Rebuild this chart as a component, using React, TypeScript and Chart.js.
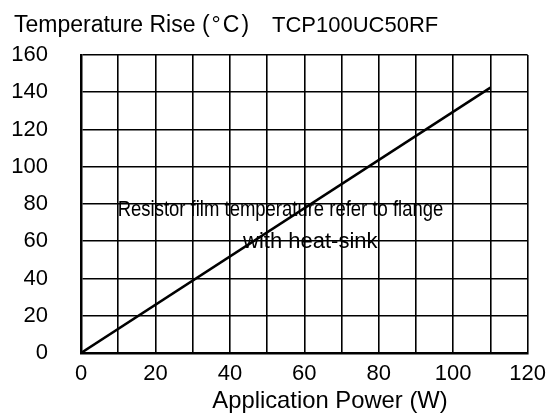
import React, { useEffect, useRef } from "react";
import { Chart, registerables } from "chart.js";

Chart.register(...registerables);

const power = [0, 110];
const tempRise = [0, 142.5];
const xTicksShown = [0, 20, 40, 60, 80, 100, 120];
const titleMain = "Temperature Rise ";
const titleUnit = "(°C)";
const titleRight = "TCP100UC50RF";
const xAxisTitle = "Application Power (W)";
const noteLines = ["Resistor film temperature refer to flange", "with heat-sink"];

const FONT = "'Liberation Sans', Arial, sans-serif";

const textPlugin = {
  id: "textPlugin",
  afterDraw(chart: any) {
    const ctx = chart.ctx;
    const xs = chart.scales.x;
    const ys = chart.scales.y;
    ctx.save();
    ctx.fillStyle = "#000";
    ctx.textBaseline = "alphabetic";
    // title
    ctx.font = `23px ${FONT}`;
    ctx.textAlign = "left";
    ctx.fillText(titleMain, 14, 32);
    const w = ctx.measureText(titleMain).width;
    (ctx as any).letterSpacing = "2px";
    ctx.fillText(titleUnit, 14 + w, 32);
    (ctx as any).letterSpacing = "0px";
    ctx.font = `22px ${FONT}`;
    ctx.fillText(titleRight, 272, 32);
    // x axis title
    ctx.font = `23.8px ${FONT}`;
    ctx.textAlign = "center";
    ctx.fillText(xAxisTitle, 330, 408);
    // note
    const pos = [
      { x: 53.6, y: 73.6, sx: 0.84 },
      { x: 61.6, y: 56.2, sx: 1 },
    ];
    ctx.font = `22px ${FONT}`;
    noteLines.forEach((t, i) => {
      const px = xs.getPixelForValue(pos[i].x);
      const py = ys.getPixelForValue(pos[i].y);
      ctx.save();
      ctx.translate(px, py);
      ctx.scale(pos[i].sx, 1);
      ctx.textAlign = "center";
      ctx.fillText(t, 0, 0);
      ctx.restore();
    });
    ctx.restore();
  },
};

export default function App() {
  const ref = useRef<HTMLCanvasElement>(null);
  useEffect(() => {
    if (!ref.current) return;
    const chart = new Chart(ref.current, {
      type: "line",
      data: {
        datasets: [
          {
            data: power.map((p, i) => ({ x: p, y: tempRise[i] })),
            borderColor: "#000",
            borderWidth: 2.5,
            pointRadius: 0,
            fill: false,
            tension: 0,
          },
        ],
      },
      options: {
        responsive: false,
        animation: false,
        devicePixelRatio: 1,
        layout: { padding: { top: 55, right: 25, left: 0, bottom: 0 } },
        plugins: {
          legend: { display: false },
          tooltip: { enabled: false },
          title: { display: false },
        },
        scales: {
          x: {
            type: "linear",
            min: 0,
            max: 120,
            afterFit(scale: any) {
              scale.height = 61;
            },
            grid: { color: "#000", lineWidth: 1.6, drawTicks: false },
            border: { color: "#000", width: 2.5 },
            ticks: {
              stepSize: 10,
              autoSkip: false,
              maxRotation: 0,
              padding: 8,
              color: "#000",
              font: { family: FONT, size: 22 },
              callback: (v: any) => (xTicksShown.includes(Number(v)) ? String(v) : ""),
            },
          },
          y: {
            type: "linear",
            min: 0,
            max: 160,
            afterFit(scale: any) {
              scale.width = 81;
            },
            grid: { color: "#000", lineWidth: 1.6, drawTicks: false },
            border: { color: "#000", width: 2.5 },
            ticks: {
              stepSize: 20,
              padding: 33,
              color: "#000",
              font: { family: FONT, size: 22 },
            },
          },
        },
      },
      plugins: [textPlugin],
    });
    return () => chart.destroy();
  }, []);
  return (
    <div style={{ position: "fixed", left: 0, top: 0, width: 554, height: 414, background: "#fff" }}>
      <canvas ref={ref} width={554} height={414} style={{ width: 554, height: 414 }} />
    </div>
  );
}
